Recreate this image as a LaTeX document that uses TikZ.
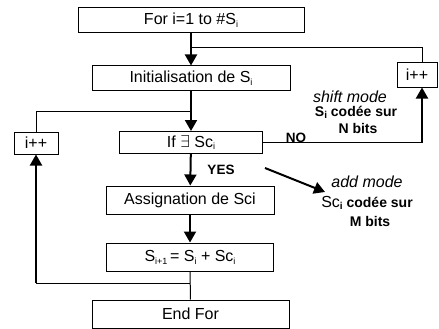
\documentclass[tikz,border=0pt]{standalone}
\usepackage{fontspec}
\setmainfont{Liberation Sans}
\usetikzlibrary{arrows.meta}

\newcommand{\ix}[1]{\raisebox{-0.35ex}{\fontsize{9}{9}\selectfont #1}}
\newcommand{\bix}[1]{\raisebox{-0.35ex}{\fontsize{10}{10}\selectfont\bfseries #1}}

\tikzset{
  box/.style={draw, line width=1pt, inner sep=0pt, font=\fontsize{16}{18}\selectfont},
  flow/.style={line width=2pt, -{Triangle[length=11pt,width=12pt]}},
  link/.style={line width=1pt},
  modetxt/.style={inner sep=0pt, font=\fontsize{16}{18}\selectfont\itshape},
  bittxt/.style={inner sep=0pt, font=\fontsize{14}{16}\selectfont\bfseries},
}

\begin{document}
\begin{tikzpicture}[x=1pt,y=-1pt]
\useasboundingbox (0,0) rectangle (439,329);

\node (forb) [box, minimum width=226pt, minimum height=25pt] at (191,20.5) {For i=1 to \#S\ix{i}};
\node (init) [box, minimum width=198pt, minimum height=24pt] at (191,78) {Initialisation de S\ix{i}};
\node (ifb) [box, minimum width=143pt, minimum height=22pt] at (191,142.5) {If $\exists$ Sc\ix{i}};
\node (assign) [box, minimum width=168pt, minimum height=28pt] at (190,200) {Assignation de Sci};
\node (sum) [box, minimum width=167pt, minimum height=28pt] at (190,257) {S\ix{i+1}\,= S\ix{i} + Sc\ix{i}};
\node (endb) [box, minimum width=197pt, minimum height=28pt] at (190.5,314) {End For};
\node (incr) [box, minimum width=40pt, minimum height=24pt] at (417,75) {i++};
\node (incl) [box, minimum width=44pt, minimum height=22pt] at (36,143) {i++};

% main flow
\draw [flow] (forb) -- (init);
\draw [flow] (init) -- (ifb);
\draw [flow] (ifb) -- (assign);
\draw [flow] (assign) -- (sum);
\draw [link] (sum) -- (endb);

% loop back on the right (NO)
\coordinate (rtop) at (422,48);
\coordinate (rno) at (422,142.5);
\draw [link] (191,48) -- (rtop) -- (rtop |- incr.north);
\draw [link] (ifb.east) -- (rno);
\draw [flow] (rno) -- (rno |- incr.south);

% loop back on the left
\coordinate (ltop) at (191,111);
\coordinate (lbot) at (190,283);
\draw [link] (ltop) -- (incl.north |- ltop) -- (incl.north);
\draw [link] (lbot) -- (incl.south |- lbot);
\draw [flow] (incl.south |- lbot) -- (incl.south);

% add mode
\coordinate (yesout) at (265,168);
\coordinate (addin) at (325,192);
\draw [flow] (yesout) -- (addin);

\node (no) [bittxt, font=\fontsize{13.5}{15}\selectfont\bfseries] at (296,138) {NO};
\node (yes) [bittxt, font=\fontsize{13.5}{15}\selectfont\bfseries] at (221,170) {YES};
\node (shift) [modetxt] at (350,97) {shift mode};
\node (scod) [bittxt] at (356,112.5) {S\bix{i} codée sur};
\node (nbits) [bittxt] at (358,128) {N bits};
\node (addm) [modetxt] at (367,182) {add mode};
\node (sccod) [bittxt] at (367,203) {{\fontsize{16}{18}\mdseries Sc}\bix{i} codée sur};
\node (mbits) [bittxt] at (370,221) {M bits};
\end{tikzpicture}
\end{document}
